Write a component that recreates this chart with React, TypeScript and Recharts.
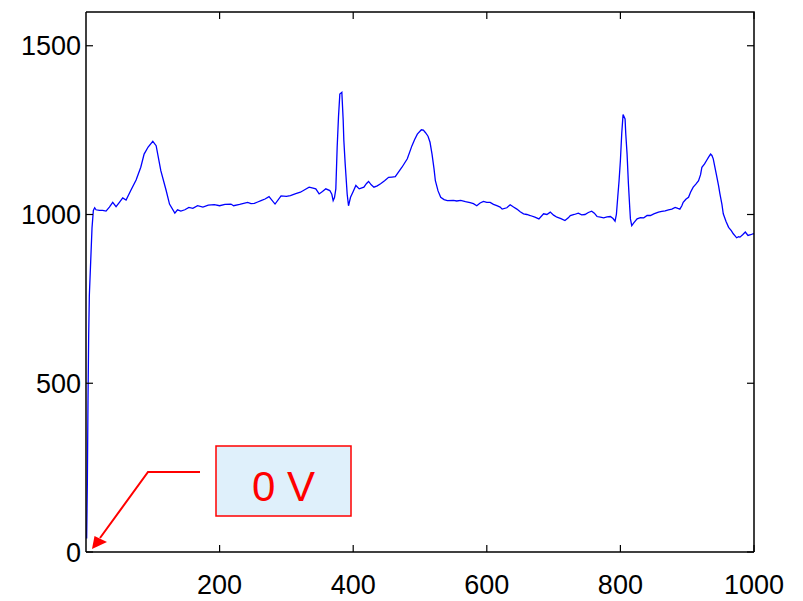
import React from 'react';
import { LineChart, Line, XAxis, YAxis } from 'recharts';

const sampleIndex = [
  1, 2, 3, 4, 5, 7, 9, 11, 13, 15, 20, 25, 30, 35, 40, 45, 50, 55, 60, 67, 75, 82, 87, 93, 100,
  105, 112, 120, 125, 133, 137, 142, 148, 154, 160, 167, 175, 183, 192, 200, 208, 217, 221, 230,
  242, 247, 252, 257, 262, 268, 274, 283, 292, 300, 306, 314, 321, 328, 334, 340, 344, 349, 354,
  359, 365, 368, 370, 372, 374, 376, 378, 380, 383, 385, 386, 388, 389, 391, 393, 396, 400, 404,
  409, 416, 420, 423, 427, 431, 436, 441, 447, 453, 458, 463, 468, 473, 481, 488, 492, 496, 502,
  505, 508, 512, 515, 518, 521, 523, 527, 531, 536, 541, 550, 555, 561, 568, 575, 580, 585, 590,
  595, 600, 605, 610, 615, 620, 623, 630, 635, 640, 645, 650, 655, 660, 665, 672, 678, 685, 690,
  695, 700, 705, 711, 717, 722, 725, 731, 737, 742, 747, 752, 757, 761, 765, 770, 775, 780, 785,
  789, 792, 794, 796, 798, 800, 802, 804, 807, 808, 810, 812, 814, 815, 817, 820, 825, 830, 835,
  840, 845, 850, 857, 862, 867, 872, 877, 882, 886, 889, 892, 894, 898, 902, 905, 909, 913, 917,
  920, 922, 926, 929, 932, 935, 937, 939, 941, 944, 947, 949, 952, 954, 958, 962, 966, 969, 972,
  974, 977, 979, 983, 987, 991, 995, 999, 1000,
];

const signal = [
  40, 200, 450, 640, 760, 860, 960, 1012, 1020, 1014, 1012, 1012, 1010, 1022, 1036, 1023, 1036,
  1049, 1043, 1071, 1102, 1140, 1179, 1200, 1217, 1204, 1130, 1071, 1031, 1004, 1014, 1010, 1014,
  1021, 1018, 1026, 1022, 1028, 1029, 1026, 1030, 1031, 1026, 1030, 1036, 1032, 1033, 1037, 1041,
  1046, 1053, 1031, 1055, 1054, 1056, 1062, 1066, 1074, 1081, 1078, 1076, 1061, 1068, 1076, 1071,
  1060, 1041, 1050, 1076, 1199, 1290, 1357, 1362, 1280, 1219, 1150, 1120, 1060, 1026, 1051, 1068,
  1086, 1076, 1081, 1092, 1098, 1088, 1081, 1085, 1091, 1100, 1110, 1111, 1112, 1126, 1140, 1165,
  1204, 1222, 1238, 1251, 1250, 1243, 1232, 1214, 1179, 1135, 1100, 1070, 1051, 1044, 1041, 1042,
  1040, 1042, 1038, 1035, 1032, 1026, 1034, 1039, 1036, 1036, 1030, 1026, 1022, 1016, 1020, 1029,
  1022, 1016, 1008, 1002, 1000, 997, 992, 987, 1002, 1000, 1007, 998, 992, 988, 982, 990, 997,
  1000, 1004, 999, 1000, 1006, 1010, 1004, 994, 992, 990, 993, 994, 988, 980, 1000, 1051, 1100,
  1160, 1240, 1296, 1283, 1240, 1179, 1091, 1020, 987, 967, 975, 987, 991, 990, 997, 997, 1002,
  1007, 1009, 1011, 1014, 1016, 1021, 1018, 1016, 1026, 1036, 1045, 1051, 1066, 1081, 1090, 1100,
  1118, 1140, 1150, 1160, 1170, 1179, 1175, 1165, 1145, 1115, 1085, 1061, 1030, 1002, 980, 962,
  952, 943, 936, 931, 934, 933, 940, 948, 938, 940, 943, 942,
];

const xTicks = [200, 400, 600, 800, 1000];
const yTicks = [0, 500, 1000, 1500];

const data = sampleIndex.map((x, i) => ({ x, v: signal[i] }));

const FONT = '"Liberation Sans", Arial, Helvetica, sans-serif';

const W = 803;
const H = 601;
const M = { top: 12, right: 49, left: 86, bottom: 49 };
const PLOT_RIGHT = W - M.right;
const PLOT_BOTTOM = H - M.bottom;
const TICK = 7;
const X_GAP = 23;
const Y_GAP = 5;

// x tick: label below axis, inward tick at bottom and top frame
const XTick = (props: any) => {
  const { x, y, payload } = props;
  const axisY = y - X_GAP;
  return (
    <g>
      <line x1={x} x2={x} y1={axisY} y2={axisY - TICK} stroke="#000" strokeWidth={1.2} />
      <line x1={x} x2={x} y1={M.top} y2={M.top + TICK} stroke="#000" strokeWidth={1.2} />
      <text x={x} y={y} dy="0.71em" textAnchor="middle" fill="#000" fontSize={27} fontFamily={FONT}>
        {payload.value}
      </text>
    </g>
  );
};

// y tick: label left of axis, inward tick at left and right frame
const YTick = (props: any) => {
  const { x, y, payload } = props;
  const axisX = x + Y_GAP;
  return (
    <g>
      <line x1={axisX} x2={axisX + TICK} y1={y} y2={y} stroke="#000" strokeWidth={1.2} />
      <line x1={PLOT_RIGHT - TICK} x2={PLOT_RIGHT} y1={y} y2={y} stroke="#000" strokeWidth={1.2} />
      <text x={x} y={y} dy="0.36em" textAnchor="end" fill="#000" fontSize={27} fontFamily={FONT}>
        {payload.value}
      </text>
    </g>
  );
};

export default function App() {
  return (
    <div style={{ position: 'absolute', left: 0, top: 0, width: W, height: H, background: '#fff' }}>
      <LineChart width={W} height={H} data={data} margin={{ top: M.top, right: M.right, left: 0, bottom: 0 }}>
        <XAxis
          dataKey="x"
          type="number"
          domain={[0, 1000]}
          ticks={xTicks}
          allowDataOverflow
          height={M.bottom}
          stroke="#000"
          strokeWidth={1.5}
          tickLine={false}
          tickSize={0}
          tickMargin={X_GAP}
          tick={<XTick />}
        />
        <YAxis
          type="number"
          domain={[0, 1600]}
          ticks={yTicks}
          allowDataOverflow
          width={M.left}
          stroke="#000"
          strokeWidth={1.5}
          tickLine={false}
          tickSize={0}
          tickMargin={Y_GAP}
          tick={<YTick />}
        />
        <Line
          type="linear"
          dataKey="v"
          stroke="#0000ff"
          strokeWidth={1.3}
          dot={false}
          isAnimationActive={false}
        />
      </LineChart>
      <svg width={W} height={H} style={{ position: 'absolute', left: 0, top: 0, pointerEvents: 'none' }}>
        {/* top and right sides of the axes box */}
        <polyline
          points={`${M.left},${M.top} ${PLOT_RIGHT},${M.top} ${PLOT_RIGHT},${PLOT_BOTTOM}`}
          fill="none"
          stroke="#000"
          strokeWidth={1.5}
        />
        {/* annotation */}
        <polyline points="200,472 148,472 100,538" fill="none" stroke="#ff0000" strokeWidth={2} />
        <polygon points="92,549 94.5,536 107,542" fill="#ff0000" />
        <rect x={216} y={446} width={135} height={70} fill="#dff0fb" stroke="#ff0000" strokeWidth={1.5} />
        <text
          x={283.5}
          y={490}
          textAnchor="middle"
          dominantBaseline="middle"
          fill="#ff0000"
          fontSize={42}
          fontFamily={FONT}
        >
          0 V
        </text>
      </svg>
    </div>
  );
}
